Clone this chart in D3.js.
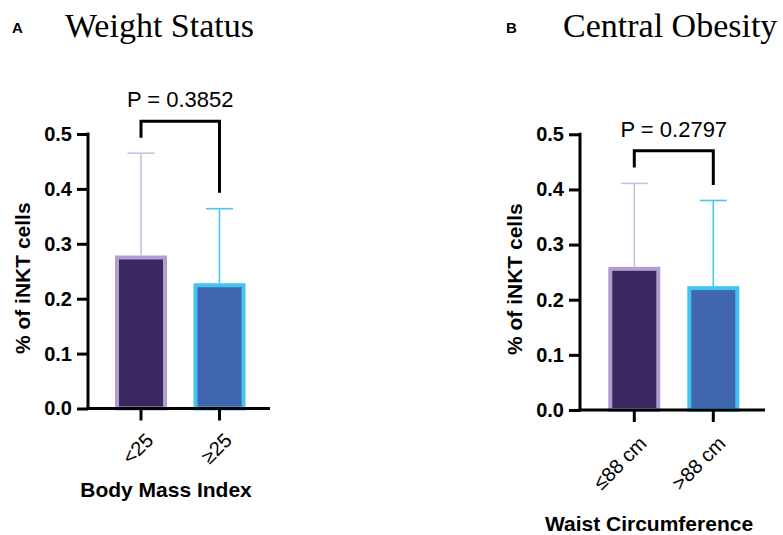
<!DOCTYPE html>
<html>
<head>
<meta charset="utf-8">
<script src="https://cdn.jsdelivr.net/npm/d3@7"></script>
<style>
  body { margin: 0; background: #fff; }
  svg { display: block; }
</style>
</head>
<body>
<div id="chart"></div>
<script>
(function() {
var width = 783,
    height = 535;

// panel A - weight status
var catsA = ["<25", "\u226525"];
var meansA = [0.275, 0.2245];
var upperA = [0.465, 0.364];
var bracketA = [0.493, 0.523, 0.393]; // left foot, top, right foot
var pA = "P = 0.3852";

// panel B - central obesity
var catsB = ["\u226488 cm", ">88 cm"];
var meansB = [0.256, 0.221];
var upperB = [0.411, 0.380];
var bracketB = [0.440, 0.470, 0.408];
var pB = "P = 0.2797";

var yTicks = [0, 0.1, 0.2, 0.3, 0.4, 0.5];
var fills = ["#3b2863", "#3f66ae"];
var strokes = ["#b29cd0", "#3fc5ef"];
var errColors = ["#cbbfe2", "#4cc5ea"];

var svg = d3.select("#chart")
  .append("svg")
  .attr("width", width)
  .attr("height", height);

var panels = [
  { letter: "A", title: "Weight Status", xTitle: "Body Mass Index",
    cats: catsA, means: meansA, upper: upperA, bracket: bracketA, p: pA,
    ox: 88, y0: 408.5, y5: 134, axLen: 182, c: [53, 131.5],
    letterX: 12, titleX: 65, titleSize: 34, xTitleX: 166, xTitleY: 497, tickY: 431 },
  { letter: "B", title: "Central Obesity", xTitle: "Waist Circumference",
    cats: catsB, means: meansB, upper: upperB, bracket: bracketB, p: pB,
    ox: 580, y0: 410, y5: 134.3, axLen: 185, c: [54.3, 133.3],
    letterX: 506, titleX: 563, titleSize: 34, xTitleX: 649, xTitleY: 531, tickY: 434 }
];

panels.forEach(function(p) {
  var y = d3.scaleLinear().domain([0, 0.5]).range([p.y0, p.y5]);
  var x = d3.scalePoint().domain(p.cats).range([p.ox + p.c[0], p.ox + p.c[1]]);
  var barW = 48;

  svg.append("text")
    .attr("x", p.letterX).attr("y", 33)
    .style("font-family", "Liberation Sans, Arial, sans-serif")
    .style("font-weight", "bold").style("font-size", "15px")
    .text(p.letter);

  svg.append("text")
    .attr("x", p.titleX).attr("y", 37)
    .style("font-family", "Liberation Serif, Times New Roman, serif")
    .style("font-size", p.titleSize + "px")
    .text(p.title);

  var g = svg.append("g");

  // bars
  g.selectAll(".bar")
    .data(p.means)
    .enter().append("rect")
    .attr("class", "bar")
    .attr("x", function(d, i) { return x(p.cats[i]) - barW / 2; })
    .attr("y", function(d) { return y(d); })
    .attr("width", barW)
    .attr("height", function(d) { return y(0) - y(d); })
    .attr("fill", function(d, i) { return fills[i]; })
    .attr("stroke", function(d, i) { return strokes[i]; })
    .attr("stroke-width", 4);

  // error bars (upper only)
  p.upper.forEach(function(u, i) {
    var cx = x(p.cats[i]);
    g.append("line")
      .attr("x1", cx).attr("x2", cx)
      .attr("y1", y(p.means[i]) - 2).attr("y2", y(u))
      .attr("stroke", errColors[i]).attr("stroke-width", 1.6);
    g.append("line")
      .attr("x1", cx - 13.5).attr("x2", cx + 13.5)
      .attr("y1", y(u)).attr("y2", y(u))
      .attr("stroke", errColors[i]).attr("stroke-width", 1.6);
  });

  // y axis
  var yAxis = d3.axisLeft(y).tickValues(yTicks).tickSize(11).tickPadding(5)
    .tickFormat(d3.format(".1f"));
  var ya = g.append("g")
    .attr("transform", "translate(" + p.ox + ",0)")
    .call(yAxis);
  ya.select(".domain").attr("stroke", "#000").attr("stroke-width", 3)
    .attr("d", "M0," + (y(0) + 1.5) + "V" + (y(0.5) - 1.5));
  ya.selectAll(".tick line").attr("stroke", "#000").attr("stroke-width", 3);
  ya.selectAll(".tick text")
    .attr("fill", "#000")
    .style("font-family", "Liberation Sans, Arial, sans-serif")
    .style("font-weight", "bold").style("font-size", "20px");

  // x axis
  g.append("line")
    .attr("x1", p.ox - 1.5).attr("x2", p.ox + p.axLen)
    .attr("y1", y(0)).attr("y2", y(0))
    .attr("stroke", "#000").attr("stroke-width", 3);
  p.cats.forEach(function(c) {
    g.append("line")
      .attr("x1", x(c)).attr("x2", x(c))
      .attr("y1", y(0)).attr("y2", y(0) + 12)
      .attr("stroke", "#000").attr("stroke-width", 3);
    g.append("text")
      .attr("transform", "translate(" + (x(c) + 3) + "," + p.tickY + ") rotate(-45)")
      .attr("text-anchor", "end")
      .attr("dy", "0.75em")
      .style("font-family", "Liberation Sans, Arial, sans-serif")
      .style("font-size", "20px")
      .text(c);
  });

  // y title
  g.append("text")
    .attr("transform", "translate(" + (p.ox - 58) + "," + ((y(0) + y(0.5)) / 2 + 7) + ") rotate(-90)")
    .attr("text-anchor", "middle")
    .style("font-family", "Liberation Sans, Arial, sans-serif")
    .style("font-weight", "bold").style("font-size", "21px")
    .text("% of iNKT cells");

  // x title
  g.append("text")
    .attr("x", p.xTitleX).attr("y", p.xTitleY)
    .attr("text-anchor", "middle")
    .style("font-family", "Liberation Sans, Arial, sans-serif")
    .style("font-weight", "bold").style("font-size", "21px")
    .text(p.xTitle);

  // significance bracket
  var xl = x(p.cats[0]), xr = x(p.cats[1]);
  g.append("path")
    .attr("d", "M" + xl + "," + y(p.bracket[0]) + "V" + y(p.bracket[1]) +
               "H" + xr + "V" + y(p.bracket[2]))
    .attr("fill", "none").attr("stroke", "#000").attr("stroke-width", 3);
  g.append("text")
    .attr("x", (xl + xr) / 2).attr("y", y(p.bracket[1]) - 14)
    .attr("text-anchor", "middle")
    .style("font-family", "Liberation Sans, Arial, sans-serif")
    .style("font-size", "22px")
    .text(p.p);
});
})();
</script>
</body>
</html>
